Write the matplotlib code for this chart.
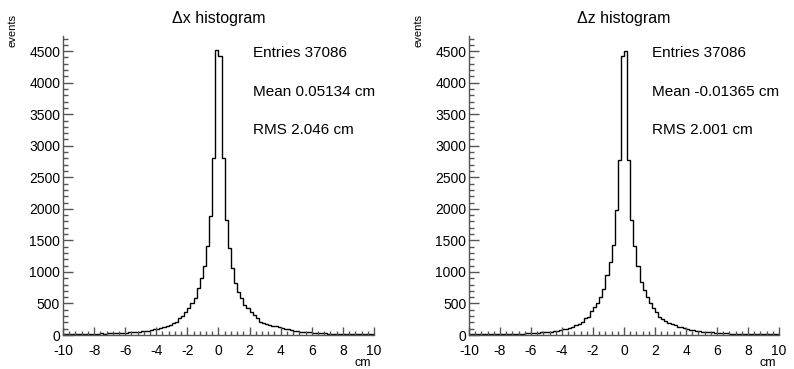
import numpy as np
import matplotlib
matplotlib.use("Agg")
import matplotlib.pyplot as plt
from matplotlib.ticker import MultipleLocator

plt.rcParams['font.family'] = ['Liberation Sans', 'DejaVu Sans']
plt.rcParams['axes.unicode_minus'] = False

# binning: 100 bins from -10 to 10 cm
x_lo, x_hi, n_bins = -10, 10, 100

# dx histogram contents (bin lower edges -10.0 ... 9.8)
dx_counts = [
    12, 14, 10, 15, 13, 16, 14, 18, 16, 19,
    20, 22, 26, 24, 28, 27, 30, 32, 34, 33,
    38, 40, 42, 46, 50, 57, 64, 70, 79, 88,
    100, 110, 125, 145, 165, 190, 212, 265, 302, 370,
    424, 503, 583, 741, 900, 1096, 1413, 1879, 2810, 4520,
    4420, 2800, 1826, 1377, 1059, 831, 688, 583, 476, 424,
    370, 318, 265, 212, 195, 180, 160, 143, 135, 122,
    110, 100, 90, 78, 69, 60, 52, 48, 44, 40,
    37, 33, 30, 27, 25, 22, 20, 18, 17, 16,
    15, 14, 15, 13, 12, 13, 11, 12, 10, 11,
]

# dz histogram contents
dz_counts = [
    10, 11, 10, 12, 11, 13, 12, 13, 15, 14,
    15, 17, 16, 18, 19, 20, 22, 24, 26, 28,
    30, 33, 36, 40, 45, 50, 55, 62, 70, 80,
    90, 100, 116, 131, 153, 174, 210, 263, 289, 379,
    447, 510, 605, 737, 947, 1157, 1421, 1974, 2780, 4420,
    4500, 2780, 1827, 1405, 1089, 842, 711, 595, 500, 421,
    368, 289, 248, 226, 184, 174, 158, 131, 121, 105,
    95, 85, 75, 68, 60, 54, 48, 44, 40, 36,
    33, 30, 28, 25, 23, 21, 20, 18, 17, 16,
    15, 14, 13, 14, 12, 11, 12, 10, 11, 10,
]

titles = ['\u0394x histogram', '\u0394z histogram']
entries = [37086, 37086]
means = ['0.05134', '-0.01365']
rms = ['2.046', '2.001']

edges = np.linspace(x_lo, x_hi, n_bins + 1)

fig = plt.figure(figsize=(7.94, 3.69), dpi=100)
ax_l = fig.add_axes([0.0793, 0.0921, 0.3917, 0.8103])
ax_r = fig.add_axes([0.5907, 0.0921, 0.3904, 0.8103])

axis_col = '#555555'
for i, (ax, counts) in enumerate(zip([ax_l, ax_r], [dx_counts, dz_counts])):
    ax.stairs(counts, edges, color='black', lw=1.0, baseline=0)
    ax.set_xlim(x_lo, x_hi)
    ax.set_ylim(0, 4740)
    for s in ['top', 'right']:
        ax.spines[s].set_visible(False)
    for s in ['left', 'bottom']:
        ax.spines[s].set_color(axis_col)
        ax.spines[s].set_linewidth(1.0)
    ax.xaxis.set_major_locator(MultipleLocator(2))
    ax.xaxis.set_minor_locator(MultipleLocator(0.4))
    ax.yaxis.set_major_locator(MultipleLocator(500))
    ax.yaxis.set_minor_locator(MultipleLocator(100))
    ax.tick_params(axis='x', which='major', direction='in', length=5.5, width=1,
                   color=axis_col, labelsize=10, pad=6.5)
    ax.tick_params(axis='x', which='minor', direction='in', length=2.8, width=1,
                   color=axis_col)
    ax.tick_params(axis='y', which='major', direction='in', length=7, width=1,
                   color=axis_col, labelsize=10, pad=2)
    ax.tick_params(axis='y', which='minor', direction='in', length=3.5, width=1,
                   color=axis_col)

    ax.text(0.5, 1.06, titles[i], transform=ax.transAxes, ha='center',
            va='center', fontsize=11.5)
    sx = 0.611 if i == 0 else 0.589
    ax.text(sx, 0.942, 'Entries %d' % entries[i], transform=ax.transAxes,
            ha='left', va='center', fontsize=11)
    ax.text(sx, 0.814, 'Mean %s cm' % means[i], transform=ax.transAxes,
            ha='left', va='center', fontsize=11)
    ax.text(sx, 0.686, 'RMS %s cm' % rms[i], transform=ax.transAxes,
            ha='left', va='center', fontsize=11)
    ax.text(0.965, -0.095, 'cm', transform=ax.transAxes, ha='center',
            va='center', fontsize=9)

fig.text(12 / 794, 1 - 14 / 369, 'events', rotation=90, ha='center', va='top',
         fontsize=8)
fig.text(418 / 794, 1 - 14 / 369, 'events', rotation=90, ha='center', va='top',
         fontsize=8)

fig.savefig('out.png', dpi=100)
